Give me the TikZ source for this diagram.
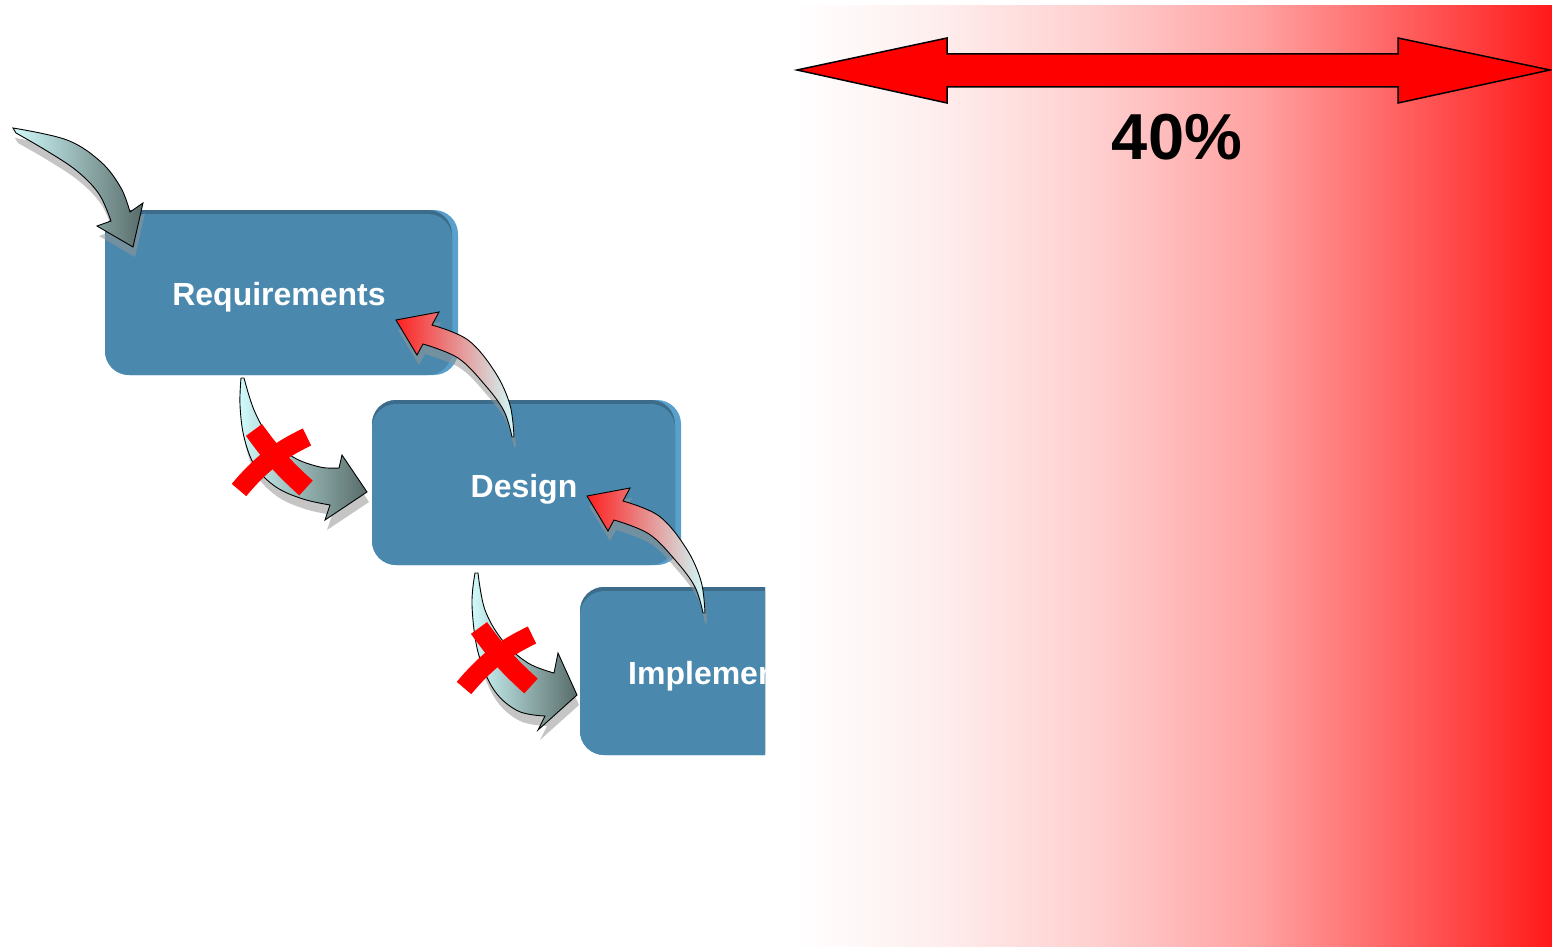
\documentclass[tikz,border=0pt]{standalone}
\usepackage{fontspec}
\setmainfont{Liberation Sans}
\definecolor{boxmain}{RGB}{74,137,173}
\definecolor{boxlight}{RGB}{90,160,205}
\definecolor{boxdark}{RGB}{60,108,138}
\definecolor{cyanL}{RGB}{208,250,250}
\definecolor{darkG}{RGB}{88,108,106}
\definecolor{arrowred}{RGB}{255,32,32}
\definecolor{shadowc}{RGB}{150,150,150}
\pgfdeclarehorizontalshading{redgrad}{100bp}{color(0bp)=(white); color(25bp)=(white); color(34.6bp)=(red!7); color(45.1bp)=(red!19); color(55.7bp)=(red!37); color(68.3bp)=(red!71); color(75bp)=(red!90); color(100bp)=(red!90)}
\newcommand\wbox[4]{%
  \fill[boxlight, rounded corners=24] (#1,#2) rectangle (#3,#4);
  \fill[boxdark, rounded corners=24] (#1,#2) rectangle (#3-6,#4-2);
  \fill[boxmain, rounded corners=24] (#1,#2+4) rectangle (#3-6,#4);
}
\newcommand\arrowA[1]{\path[#1] plot[smooth,tension=0.6] coordinates {(13,128) (67,140) (101,162) (121,188) (130,212)} -- (143,203) -- (133,247) -- (97,226) -- (111,221) -- plot[smooth,tension=0.6] coordinates {(111,221) (99,194) (77,171) (47,151) (16,133)} -- cycle;}
\newcommand\arrowB[1]{\path[#1] plot[smooth,tension=0.6] coordinates {(244,378) (254,410) (269,436) (293,457) (320,467) (339,468)} -- (342,455) -- (367,492) -- (325,520) -- (330,505) -- plot[smooth,tension=0.6] coordinates {(330,505) (303,499) (276,487) (255,466) (244,437) (240,405) (241,378)} -- cycle;}
\newcommand\arrowC[1]{\path[#1] (396,320) -- (439,312) -- (432,325) -- plot[smooth,tension=0.6] coordinates {(432,325) (468,340) (495,372) (510,405) (514,437)} -- plot[smooth,tension=0.6] coordinates {(512,437) (504,411) (485,385) (458,358) (423,344)} -- (417,355) -- cycle;}
\newcommand\arrowE[1]{\path[#1] plot[smooth,tension=0.6] coordinates {(478,573) (485,610) (503,641) (528,663) (554,673)} -- (558,653) -- (577,695) -- (538,730) -- (545,716) -- plot[smooth,tension=0.6] coordinates {(545,716) (518,711) (494,690) (478,652) (472,605) (475,573)} -- cycle;}
\newcommand\xmark{%
  \draw[red, line width=20] (254,430) to[bend right=6] (306,488);
  \draw[red, line width=19] (307,437) to[bend right=12] (239,490);
}
\tikzset{
  lbl/.style={text=white, font=\fontsize{32}{38}\selectfont\bfseries, inner sep=0},
  shad/.style={fill=shadowc, opacity=0.55, shift={(2,10)}},
  outl/.style={draw=black, line width=0.9},
}
\begin{document}
\begin{tikzpicture}[x=1pt,y=-1pt]
\useasboundingbox (0,0) rectangle (1552,947);
\fill[white] (0,0) rectangle (1552,947);
\shade[shading=redgrad] (795,6) rectangle (1552,947);
% double arrow
\draw[fill=red, line width=1.5] (797,70) -- (947,38) -- (947,54) -- (1398,54) -- (1398,38) -- (1550,70) -- (1398,103) -- (1398,87) -- (947,87) -- (947,103) -- cycle;
\node[font=\fontsize{65}{78}\selectfont\bfseries, inner sep=0, anchor=base] (pct) at (1177,160) {40\%};
% boxes
\wbox{105}{210}{458}{375}
\node[lbl, anchor=base] (req) at (279,305) {Requirements};
\wbox{372}{400}{681}{565}
\node[lbl, anchor=base] (des) at (524,497) {Design};
\begin{scope}
\clip (0,0) rectangle (765,947);
\wbox{580}{587}{890}{755}
\node[lbl, anchor=base west] (imp) at (628,684) {Implementation};
\end{scope}
% shadows
\arrowA{shad}
\arrowB{shad}
\arrowC{shad}
\begin{scope}[shift={(191,176)}]\arrowC{shad}\end{scope}
\arrowE{shad}
% arrows
\arrowA{outl, left color=cyanL, right color=darkG}
\arrowB{outl, left color=cyanL, right color=darkG}
\arrowC{outl, left color=arrowred, right color=cyanL}
\begin{scope}[shift={(191,176)}]\arrowC{outl, left color=arrowred, right color=cyanL}\end{scope}
\arrowE{outl, left color=cyanL, right color=darkG}
% crosses
\xmark
\begin{scope}[shift={(225,198)}]\xmark\end{scope}
\end{tikzpicture}
\end{document}
